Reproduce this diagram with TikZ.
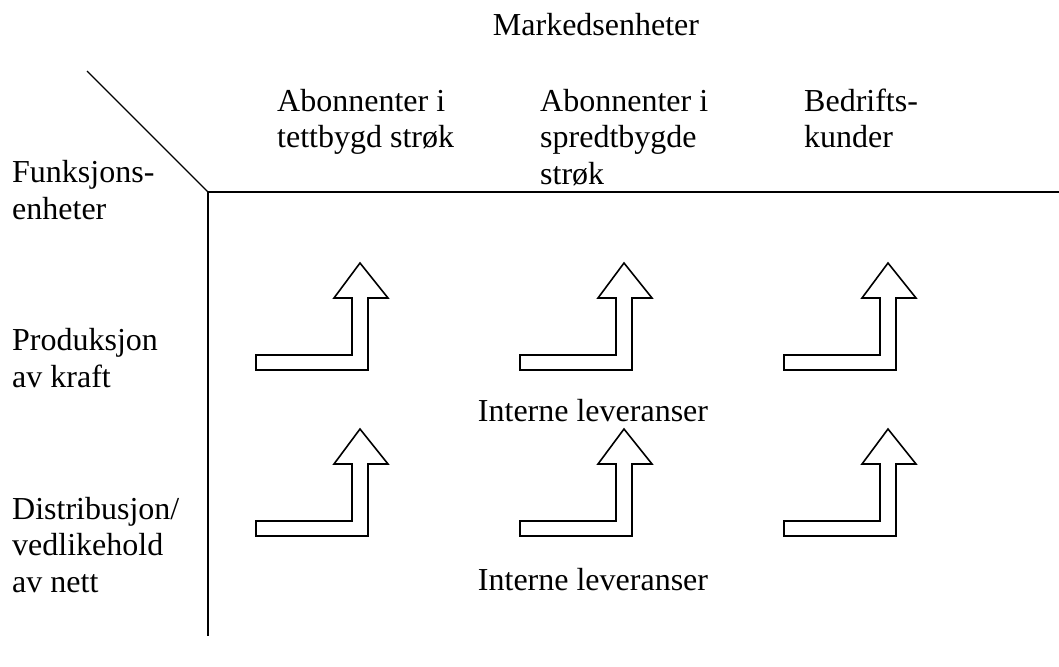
\documentclass[tikz,border=0pt]{standalone}
\usepackage{fontspec}
\setmainfont{Liberation Serif}

\begin{document}
\begin{tikzpicture}[
    x=1pt, y=-1pt,
    label/.style={inner sep=0pt, align=left, anchor=base west,
        font=\fontsize{32}{36.5}\selectfont},
    title/.style={label, anchor=base},
    rule/.style={line width=1.8pt},
    turnarrow/.pic={
        \draw[line width=1.6pt, line join=miter] (0,0) -- (0,-15) -- (96,-15) -- (96,-72)
            -- (78,-72) -- (104,-107) -- (132,-72) -- (112,-72) -- (112,0) -- cycle;
    }
]
    \useasboundingbox (0,0) rectangle (1059,666);

    % corner lines
    \coordinate (corner) at (208,192);
    \coordinate (diag) at (87,71);
    \coordinate (right) at (1059,192);
    \coordinate (bottom) at (208,636);
    \draw[line width=1.2pt] (diag) -- (corner);
    \draw[rule] (corner) -- (right);
    \draw[rule] (corner) -- (bottom);

    % headings (base anchor = last line)
    \node[title] (market) at (596,36) {Markedsenheter};
    \node[label] (tett) at (277,147.5) {Abonnenter i\\tettbygd strøk};
    \node[label] (spredt) at (540,184) {Abonnenter i\\spredtbygde\\strøk};
    \node[label] (bedrift) at (804,147.5) {Bedrifts-\\kunder};
    \node[label] (funk) at (12,219) {Funksjons-\\enheter};
    \node[label] (prod) at (12,387) {Produksjon\\av kraft};
    \node[label] (dist) at (12,592) {Distribusjon/\\vedlikehold\\av nett};

    % arrows
    \pic at (256,370) {turnarrow};
    \pic at (520,370) {turnarrow};
    \pic at (784,370) {turnarrow};
    \pic at (256,536) {turnarrow};
    \pic at (520,536) {turnarrow};
    \pic at (784,536) {turnarrow};

    \node[title] (lev1) at (593,421) {Interne leveranser};
    \node[title] (lev2) at (593,590) {Interne leveranser};
\end{tikzpicture}
\end{document}
